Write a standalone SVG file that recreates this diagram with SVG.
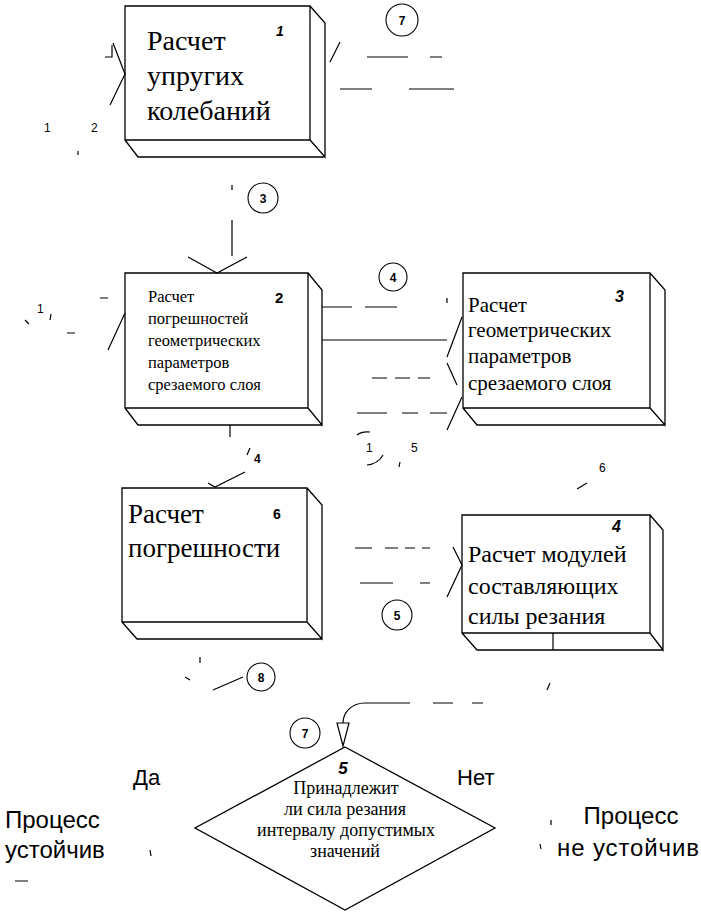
<svg xmlns="http://www.w3.org/2000/svg" width="701" height="912" viewBox="0 0 701 912">
<style>
.box{fill:none;stroke:#000;stroke-width:1.3;stroke-linejoin:miter}
.ln{fill:none;stroke:#000;stroke-width:1.2}
.circ{fill:none;stroke:#000;stroke-width:1.1}
.serif{font-family:"Liberation Serif","Times New Roman",serif;fill:#000}
.sans{font-family:"Liberation Sans",Arial,sans-serif;fill:#000}
.num{font-family:"Liberation Sans",Arial,sans-serif;font-weight:bold;fill:#000}
.lbl{font-family:"Liberation Sans",Arial,sans-serif;font-size:12px;fill:#000}
.cn{font-family:"Liberation Sans",Arial,sans-serif;font-weight:bold;font-size:12px;fill:#000;text-anchor:middle}
</style>
<rect width="701" height="912" fill="#fff"/>

<g id="connectors">
  <!-- into box 1 -->
  <path class="ln" d="M113,43 L125,74 L110,105 M105,57 H112 V45"/>
  <path class="ln" d="M78,151 V155"/>
  <!-- box1 to 7 -->
  <path class="ln" d="M330,62 L340,42 M367,57 H408 M430,57 H442 M340,89 H372 M409,89 H454"/>
  <!-- 3 into box 2 -->
  <path class="ln" d="M232,185 V190 M232,220 V256 M188,257 L217,273 L247,257"/>
  <!-- into box 2 left -->
  <path class="ln" d="M108,350 L125,313 M100,298 H108 M25,320 L29,324 M51,314 L50,320 M67,333 H75"/>
  <!-- box 2 to box 3 -->
  <path class="ln" d="M322,307 H352 M365,307 H397 M447,298 V303 M322,340 H447 M372,378 H387 M395,378 H410 M418,378 H430 M357,413 H387 M402,413 H418 M430,413 H447"/>
  <path class="ln" d="M462,317 L447,357 M447,363 L457,385 M462,397 L447,430"/>
  <path class="ln" d="M357,435 Q362,431 370,432 M367,465 Q378,464 383,455 M400,462 L399,467"/>
  <!-- box 2 to box 6 -->
  <path class="ln" d="M230,425 V437 M247,455 L250,448 M208,483 L215,487 L245,472"/>
  <!-- box 6 to box 4 -->
  <path class="ln" d="M355,548 H372 M385,548 H398 M405,548 H415 M422,548 H430 M360,583 H393 M420,583 H430 M453,547 L462,565 L447,597"/>
  <path class="ln" d="M577,489 L587,483"/>
  <!-- box 6 to 8 -->
  <path class="ln" d="M200,657 V663 M185,677 L190,680 M213,690 L243,677"/>
  <!-- box 4 to diamond -->
  <path class="ln" d="M553,633 V650 M547,690 L550,683 M483,703 H472 M453,703 H433 M410,703 H365 C352,703 343,712 343,723"/>
  <path class="ln" d="M337,723 L349,723 L343,746 Z" fill="#fff"/>
  <!-- stray marks -->
  <path class="ln" d="M150,850 L151,856 M15,881 H28 M551,820 V825 M540,844 L541,849"/>
  <!-- circled labels -->
  <circle class="circ" cx="402" cy="20" r="16"/><text class="cn" x="402" y="25">7</text>
  <circle class="circ" cx="263" cy="198" r="15"/><text class="cn" x="263" y="203">3</text>
  <circle class="circ" cx="393" cy="277" r="14"/><text class="cn" x="393" y="282">4</text>
  <circle class="circ" cx="261" cy="677" r="14"/><text class="cn" x="261" y="682">8</text>
  <circle class="circ" cx="397" cy="615" r="15"/><text class="cn" x="397" y="620">5</text>
  <circle class="circ" cx="305" cy="733" r="15"/><text class="cn" x="305" y="738">7</text>
  <text class="lbl" x="44" y="132">1</text>
  <text class="lbl" x="91" y="132">2</text>
  <text class="lbl" x="37" y="313">1</text>
  <text class="lbl" x="366" y="452">1</text>
  <text class="lbl" x="411" y="452">5</text>
  <text class="num" font-size="12" x="254" y="463">4</text>
  <text class="lbl" x="599" y="472">6</text>
</g>

<g id="node1">
  <path class="box" d="M125,6 H310 V140 H125 Z M310,6 L325,23 V157 L310,140 M125,140 L138,157 H325"/>
  <text class="serif" font-size="28" x="147" y="50">Расчет</text>
  <text class="serif" font-size="28" x="147" y="85">упругих</text>
  <text class="serif" font-size="28" x="147" y="120">колебаний</text>
  <text class="num" font-size="14" font-style="italic" x="276" y="36">1</text>
</g>

<g id="node2">
  <path class="box" d="M125,273 H308 V408 H125 Z M308,273 L322,290 V425 L308,408 M125,408 L138,425 H322"/>
  <g class="serif" font-size="16.5">
    <text x="148" y="302">Расчет</text>
    <text x="148" y="324">погрешностей</text>
    <text x="148" y="346">геометрических</text>
    <text x="148" y="368">параметров</text>
    <text x="148" y="390">срезаемого слоя</text>
  </g>
  <text class="num" font-size="15" x="275" y="303">2</text>
</g>

<g id="node3">
  <path class="box" d="M463,273 H650 V408 H463 Z M650,273 L665,290 V425 L650,408 M463,408 L477,425 H665"/>
  <g class="serif" font-size="21">
    <text x="468" y="312">Расчет</text>
    <text x="468" y="337">геометрических</text>
    <text x="468" y="363">параметров</text>
    <text x="468" y="390">срезаемого слоя</text>
  </g>
  <text class="num" font-size="16" font-style="italic" x="615" y="302">3</text>
</g>

<g id="node6">
  <path class="box" d="M122,488 H307 V622 H122 Z M307,488 L322,505 V639 L307,622 M122,622 L137,639 H322"/>
  <text class="serif" font-size="27" x="128" y="523">Расчет</text>
  <text class="serif" font-size="27" x="128" y="557">погрешности</text>
  <text class="num" font-size="14" x="273" y="519">6</text>
</g>

<g id="node4">
  <path class="box" d="M462,515 H650 V633 H462 Z M650,515 L663,530 V650 L650,633 M462,633 L477,650 H663"/>
  <g class="serif" font-size="24">
    <text x="468" y="562">Расчет модулей</text>
    <text x="468" y="594">составляющих</text>
    <text x="468" y="624">силы резания</text>
  </g>
  <text class="num" font-size="16" font-style="italic" x="612" y="532">4</text>
</g>

<g id="node5">
  <path class="box" d="M345,747 L495,828 L345,910 L195,828 Z"/>
  <text class="num" font-size="17" font-style="italic" x="343" y="774" text-anchor="middle">5</text>
  <g class="serif" font-size="18" text-anchor="middle">
    <text x="346" y="794">Принадлежит</text>
    <text x="345" y="815">ли сила резания</text>
    <text x="346" y="836">интервалу допустимых</text>
    <text x="345" y="857">значений</text>
  </g>
</g>

<g id="yes">
  <text class="sans" font-size="22" x="133" y="785">Да</text>
</g>
<g id="no">
  <text class="sans" font-size="22" x="457" y="785">Нет</text>
</g>
<g id="stable">
  <text class="sans" font-size="24" x="5" y="828">Процесс</text>
  <text class="sans" font-size="24" x="5" y="858">устойчив</text>
</g>
<g id="unstable">
  <text class="sans" font-size="24" x="631" y="824" text-anchor="middle">Процесс</text>
  <text class="sans" font-size="24" x="628" y="856" text-anchor="middle" textLength="142">не устойчив</text>
</g>
</svg>
